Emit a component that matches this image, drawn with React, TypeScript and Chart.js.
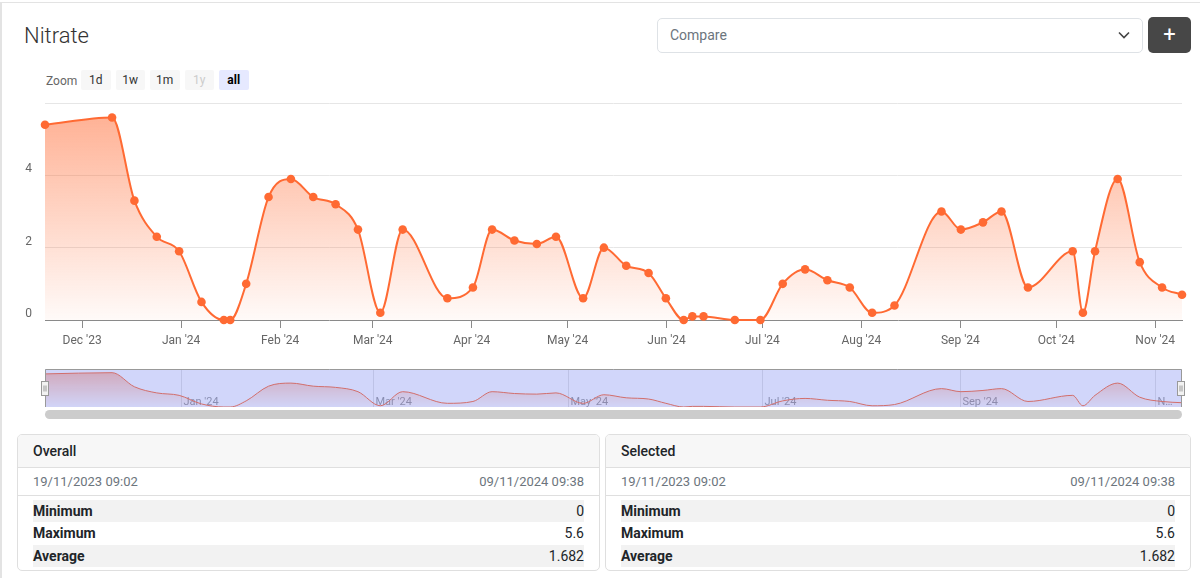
import React, { useEffect, useRef } from 'react';
import { Chart, registerables } from 'chart.js';

Chart.register(...registerables);

// ---- data ----
const DATES: string[] = [
  '2023-11-19T09:02', '2023-12-10T09:00', '2023-12-17T09:00', '2023-12-24T09:00', '2023-12-31T09:00',
  '2024-01-07T09:00', '2024-01-14T09:00', '2024-01-16T09:00', '2024-01-21T09:00', '2024-01-28T09:00',
  '2024-02-04T09:00', '2024-02-11T09:00', '2024-02-18T09:00', '2024-02-25T09:00', '2024-03-03T09:00',
  '2024-03-10T09:00', '2024-03-24T09:00', '2024-04-01T09:00', '2024-04-07T09:00', '2024-04-14T09:00',
  '2024-04-21T09:00', '2024-04-27T09:00', '2024-05-05T21:00', '2024-05-12T09:00', '2024-05-19T09:00',
  '2024-05-26T09:00', '2024-05-31T19:00', '2024-06-06T09:00', '2024-06-09T02:00', '2024-06-12T14:00',
  '2024-06-22T09:00', '2024-06-30T09:00', '2024-07-07T09:00', '2024-07-14T09:00', '2024-07-21T09:00',
  '2024-07-28T09:00', '2024-08-04T09:00', '2024-08-11T09:00', '2024-08-26T02:00', '2024-09-01T04:00',
  '2024-09-08T02:00', '2024-09-13T21:00', '2024-09-22T04:00', '2024-10-06T04:00', '2024-10-09T09:00',
  '2024-10-13T04:00', '2024-10-20T06:00', '2024-10-27T04:00', '2024-11-03T04:00', '2024-11-09T09:38',
];
const VALUES: number[] = [
  5.4, 5.6, 3.3, 2.3, 1.9, 0.5, 0, 0, 1.0, 3.4,
  3.9, 3.4, 3.2, 2.5, 0.2, 2.5, 0.6, 0.9, 2.5, 2.2,
  2.1, 2.3, 0.6, 2.0, 1.5, 1.3, 0.6, 0, 0.1, 0.1,
  0, 0, 1.0, 1.4, 1.1, 0.9, 0.2, 0.4, 3.0, 2.5,
  2.7, 3.0, 0.9, 1.9, 0.2, 1.9, 3.9, 1.6, 0.9, 0.7,
];
const MONTH_TICKS: string[] = [
  '2023-12-01', '2024-01-01', '2024-02-01', '2024-03-01', '2024-04-01', '2024-05-01',
  '2024-06-01', '2024-07-01', '2024-08-01', '2024-09-01', '2024-10-01', '2024-11-01',
];
const MONTH_LABELS: string[] = [
  "Dec '23", "Jan '24", "Feb '24", "Mar '24", "Apr '24", "May '24",
  "Jun '24", "Jul '24", "Aug '24", "Sep '24", "Oct '24", "Nov '24",
];
const NAV_TICKS: string[] = ['2024-01-01', '2024-03-01', '2024-05-01', '2024-07-01', '2024-09-01', '2024-11-01'];
const NAV_LABELS: string[] = ["Jan '24", "Mar '24", "May '24", "Jul '24", "Sep '24", "Nov '24"];
const Y_TICKS: number[] = [0, 2, 4, 6];
const Y_LABELS: string[] = ['0', '2', '4', ''];
const ZOOM_BUTTONS: string[] = ['1d', '1w', '1m', '1y', 'all'];
const STATS_LABELS: string[] = ['Minimum', 'Maximum', 'Average'];
const OVERALL_VALUES: string[] = ['0', '5.6', '1.682'];
const SELECTED_VALUES: string[] = ['0', '5.6', '1.682'];
const RANGE_START = '19/11/2023 09:02';
const RANGE_END = '09/11/2024 09:38';

const ORANGE = '#ff6a33';
const FONT = 'Roboto, "Noto Sans", sans-serif';

function toUTC(s: string): number {
  const [d, t = '00:00'] = s.split('T');
  const [y, m, day] = d.split('-').map(Number);
  const [hh, mm] = t.split(':').map(Number);
  return Date.UTC(y, m - 1, day, hh, mm);
}

const X_VALUES = DATES.map(toUTC);
const MONTH_VALUES = MONTH_TICKS.map(toUTC);
const NAV_VALUES = NAV_TICKS.map(toUTC);
const POINTS = X_VALUES.map((x, i) => ({ x, y: VALUES[i] }));

function areaGradient(top: number, bottom: number) {
  return (c: any) => {
    const chart = c.chart;
    const a = chart.chartArea;
    if (!a) return `rgba(255,106,51,${top})`;
    const g = chart.ctx.createLinearGradient(0, a.top, 0, a.bottom);
    g.addColorStop(0, `rgba(255,106,51,${top})`);
    g.addColorStop(1, `rgba(255,106,51,${bottom})`);
    return g;
  };
}

const navPlugin = {
  id: 'navDecor',
  beforeDatasetsDraw(chart: any) {
    const { ctx, chartArea: a, scales } = chart;
    const x = scales.x;
    ctx.save();
    NAV_VALUES.forEach((v, i) => {
      const px = Math.round(x.getPixelForValue(v)) + 0.5;
      ctx.strokeStyle = '#e2e2e2';
      ctx.lineWidth = 1;
      ctx.beginPath();
      ctx.moveTo(px, a.top);
      ctx.lineTo(px, a.bottom);
      ctx.stroke();
      ctx.font = `11px ${FONT}`;
      ctx.fillStyle = '#999';
      ctx.textBaseline = 'alphabetic';
      let label = NAV_LABELS[i];
      const avail = a.right - (px + 2) - 4;
      if (ctx.measureText(label).width > avail) {
        while (label.length > 1 && ctx.measureText(label + '…').width > avail) label = label.slice(0, -1);
        label = label + '…';
      }
      ctx.fillText(label, px + 2, a.bottom - 2);
    });
    ctx.restore();
  },
  afterDatasetsDraw(chart: any) {
    const { ctx, chartArea: a } = chart;
    ctx.save();
    ctx.fillStyle = 'rgba(102,120,240,0.3)';
    ctx.fillRect(a.left, a.top, a.right - a.left, a.bottom - a.top);
    ctx.strokeStyle = '#999';
    ctx.lineWidth = 1;
    ctx.beginPath();
    ctx.moveTo(a.left + 0.5, a.bottom);
    ctx.lineTo(a.left + 0.5, a.top + 0.5);
    ctx.lineTo(a.right - 0.5, a.top + 0.5);
    ctx.lineTo(a.right - 0.5, a.bottom);
    ctx.stroke();
    const cy = (a.top + a.bottom) / 2;
    [a.left - 0.5, a.right - 1.5].forEach((cx) => {
      const l = Math.round(cx - 3.5) + 0.5;
      const t = Math.round(cy - 7) + 0.5;
      ctx.fillStyle = '#f2f2f2';
      ctx.fillRect(l, t, 7, 14);
      ctx.strokeStyle = '#999';
      ctx.strokeRect(l, t, 7, 14);
      ctx.beginPath();
      ctx.moveTo(l + 2.5, t + 4);
      ctx.lineTo(l + 2.5, t + 10);
      ctx.moveTo(l + 4.5, t + 4);
      ctx.lineTo(l + 4.5, t + 10);
      ctx.stroke();
    });
    ctx.restore();
  },
};

function MainChart() {
  const ref = useRef<HTMLCanvasElement>(null);
  useEffect(() => {
    if (!ref.current) return;
    const chart = new Chart(ref.current, {
      type: 'line',
      data: {
        datasets: [
          {
            data: POINTS as any,
            borderColor: ORANGE,
            borderWidth: 2,
            pointRadius: 4.3,
            pointBackgroundColor: ORANGE,
            pointBorderColor: ORANGE,
            pointBorderWidth: 0,
            fill: 'origin',
            backgroundColor: areaGradient(0.55, 0.03) as any,
            cubicInterpolationMode: 'monotone',
            clip: false as any,
          },
        ],
      },
      options: {
        animation: false,
        responsive: true,
        maintainAspectRatio: false,
        events: [],
        layout: { padding: { top: 8, right: 18, left: 0, bottom: 0 } },
        plugins: { legend: { display: false }, tooltip: { enabled: false } },
        scales: {
          x: {
            type: 'linear',
            min: X_VALUES[0],
            max: X_VALUES[X_VALUES.length - 1],
            afterBuildTicks: (s: any) => {
              s.ticks = MONTH_VALUES.map((v) => ({ value: v }));
            },
            afterFit: (s: any) => {
              s.height = 35;
              s.paddingLeft = 0;
              s.paddingRight = 0;
            },
            ticks: {
              autoSkip: false,
              maxRotation: 0,
              padding: 6,
              color: '#666',
              font: { size: 12, family: FONT },
              callback: (v: any) => {
                const i = MONTH_VALUES.indexOf(Number(v));
                return i >= 0 ? MONTH_LABELS[i] : '';
              },
            },
            grid: { drawOnChartArea: false, drawTicks: true, tickLength: 8, color: '#8a8a8a' },
            border: { display: true, color: '#8a8a8a', width: 1 },
          },
          y: {
            min: 0,
            max: 6,
            afterBuildTicks: (s: any) => {
              s.ticks = Y_TICKS.map((v) => ({ value: v }));
            },
            afterFit: (s: any) => {
              s.width = 45;
              s.paddingTop = 0;
              s.paddingBottom = 0;
            },
            ticks: {
              padding: 13,
              labelOffset: -6,
              color: '#666',
              font: { size: 12, family: FONT },
              callback: (v: any) => {
                const i = Y_TICKS.indexOf(Number(v));
                return i >= 0 ? Y_LABELS[i] : '';
              },
            },
            grid: {
              drawTicks: false,
              color: (c: any) => (c.tick && c.tick.value === 0 ? 'rgba(0,0,0,0)' : '#e6e6e6'),
            },
            border: { display: false },
          },
        },
      },
    } as any);
    return () => chart.destroy();
  }, []);
  return (
    <div style={{ position: 'absolute', left: 0, top: 95, width: 1200, height: 260 }}>
      <canvas ref={ref} />
    </div>
  );
}

function NavigatorChart() {
  const ref = useRef<HTMLCanvasElement>(null);
  useEffect(() => {
    if (!ref.current) return;
    const chart = new Chart(ref.current, {
      type: 'line',
      data: {
        datasets: [
          {
            data: POINTS as any,
            borderColor: ORANGE,
            borderWidth: 1,
            pointRadius: 0,
            fill: 'origin',
            backgroundColor: areaGradient(0.45, 0.02) as any,
            cubicInterpolationMode: 'monotone',
          },
        ],
      },
      options: {
        animation: false,
        responsive: true,
        maintainAspectRatio: false,
        events: [],
        layout: { padding: { top: 4, right: 18, left: 45, bottom: 3 } },
        plugins: { legend: { display: false }, tooltip: { enabled: false } },
        scales: {
          x: { type: 'linear', display: false, min: X_VALUES[0], max: X_VALUES[X_VALUES.length - 1] },
          y: { display: false, min: 0, max: 6.2 },
        },
      },
      plugins: [navPlugin],
    } as any);
    return () => chart.destroy();
  }, []);
  return (
    <div style={{ position: 'absolute', left: 0, top: 365, width: 1200, height: 45 }}>
      <canvas ref={ref} />
    </div>
  );
}

function StatsCard({ left, width, title, values }: { left: number; width: number; title: string; values: string[] }) {
  const border = '1px solid #dfdfdf';
  return (
    <div
      style={{
        position: 'absolute',
        left,
        top: 434,
        width,
        boxSizing: 'border-box',
        border,
        borderRadius: 5,
        overflow: 'hidden',
        fontFamily: FONT,
        color: '#212529',
        background: '#fff',
      }}
    >
      <div
        style={{
          height: 32,
          lineHeight: '32px',
          padding: '0 15px',
          background: '#f7f7f7',
          borderBottom: border,
          fontSize: 14,
          fontWeight: 500,
        }}
      >
        {title}
      </div>
      <div
        style={{
          height: 27,
          lineHeight: '27px',
          padding: '0 15px',
          borderBottom: border,
          fontSize: 13,
          color: '#6c757d',
          display: 'flex',
          justifyContent: 'space-between',
        }}
      >
        <span>{RANGE_START}</span>
        <span>{RANGE_END}</span>
      </div>
      <div style={{ padding: '4px 15px 3px 15px' }}>
        {STATS_LABELS.map((l, i) => (
          <div
            key={l}
            style={{
              height: 22.4,
              lineHeight: '22.4px',
              display: 'flex',
              justifyContent: 'space-between',
              fontSize: 14,
              background: i % 2 === 0 ? '#f2f2f2' : '#fff',
            }}
          >
            <span style={{ fontWeight: 700 }}>{l}</span>
            <span>{values[i]}</span>
          </div>
        ))}
      </div>
    </div>
  );
}

export default function App() {
  const btnLefts = [81, 115.5, 150, 184.5, 219];
  return (
    <div
      style={{
        position: 'absolute',
        left: 0,
        top: 0,
        width: 1200,
        height: 578,
        overflow: 'hidden',
        background: '#fff',
        fontFamily: FONT,
      }}
    >
      <div
        style={{
          position: 'absolute',
          left: 0,
          top: 2,
          width: 1210,
          height: 600,
          borderTop: '1px solid #e3e3e3',
          borderLeft: '2px solid #e3e3e3',
          boxSizing: 'border-box',
        }}
      />
      <div
        style={{
          position: 'absolute',
          left: 24,
          top: 21,
          fontSize: 22,
          fontWeight: 300,
          lineHeight: '30px',
          color: '#333',
        }}
      >
        Nitrate
      </div>
      <div
        style={{
          position: 'absolute',
          left: 46,
          top: 71,
          height: 20,
          lineHeight: '20px',
          fontSize: 12,
          color: '#666',
        }}
      >
        Zoom
      </div>
      {ZOOM_BUTTONS.map((b, i) => (
        <div
          key={b}
          style={{
            position: 'absolute',
            left: btnLefts[i],
            top: 70,
            width: 29.5,
            height: 20,
            lineHeight: '21px',
            textAlign: 'center',
            fontSize: 12,
            borderRadius: 2,
            background: b === 'all' ? '#e6e9ff' : '#f7f7f7',
            color: b === '1y' ? '#cccccc' : b === 'all' ? '#000' : '#333',
            fontWeight: b === 'all' ? 700 : 400,
          }}
        >
          {b}
        </div>
      ))}
      <div
        style={{
          position: 'absolute',
          left: 657,
          top: 18,
          width: 486,
          height: 35,
          boxSizing: 'border-box',
          border: '1px solid #dee2e6',
          borderRadius: 5,
          background: '#fff',
          fontSize: 14,
          lineHeight: '33px',
          paddingLeft: 12,
          color: '#6c757d',
        }}
      >
        Compare
      </div>
      <svg
        width={12}
        height={8}
        style={{ position: 'absolute', left: 1118, top: 31 }}
        viewBox="0 0 12 8"
      >
        <polyline points="1,1.5 6,6.5 11,1.5" fill="none" stroke="#444" strokeWidth={1.6} />
      </svg>
      <div
        style={{
          position: 'absolute',
          left: 1148,
          top: 17,
          width: 43,
          height: 36,
          borderRadius: 5,
          background: '#474747',
          color: '#fff',
          fontSize: 22,
          lineHeight: '35px',
          textAlign: 'center',
          fontWeight: 400,
        }}
      >
        +
      </div>
      <MainChart />
      <NavigatorChart />
      <div
        style={{
          position: 'absolute',
          left: 45,
          top: 410,
          width: 1137,
          height: 9,
          borderRadius: 5,
          background: '#cccccc',
        }}
      />
      <StatsCard left={17} width={583} title="Overall" values={OVERALL_VALUES} />
      <StatsCard left={605} width={586} title="Selected" values={SELECTED_VALUES} />
    </div>
  );
}
